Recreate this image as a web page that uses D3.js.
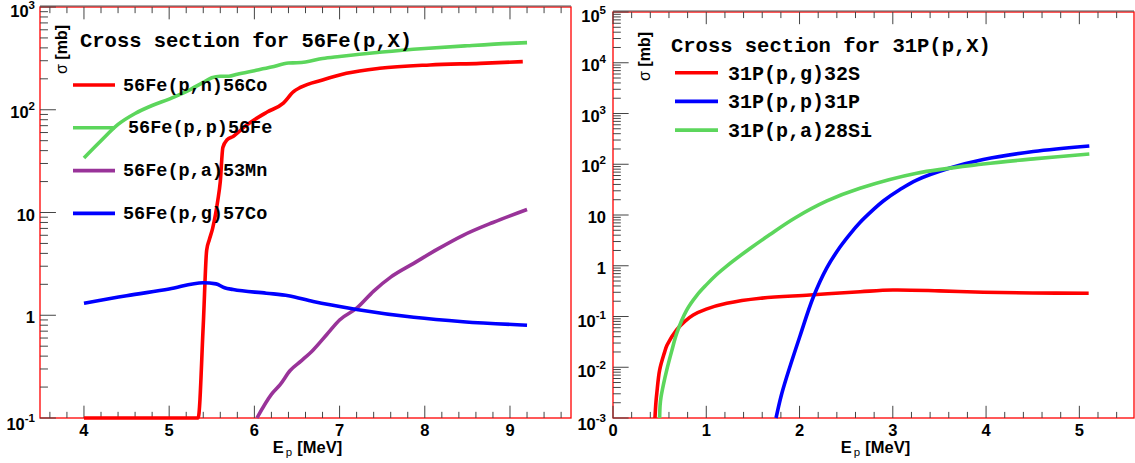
<!DOCTYPE html>
<html><head><meta charset="utf-8">
<script src="https://cdn.jsdelivr.net/npm/d3@7"></script>
<style>
html,body{margin:0;padding:0;background:#fff;}
svg{display:block;}
</style></head>
<body>
<svg id="chart" width="1135" height="463"></svg>
<script>
// ---------- DATA ----------
// Left panel: 56Fe(p,X), E_p [MeV] vs sigma [mb]
const feSeriesNames = ["56Fe(p,n)56Co", "56Fe(p,p)56Fe", "56Fe(p,a)53Mn", "56Fe(p,g)57Co"];
const fePN = [[4.0,0.1],[5.34,0.1],[5.40,0.8],[5.44,4.3],[5.47,5.4],[5.51,7.0],[5.57,13],[5.60,20],[5.63,43],[5.68,51],[5.75,55],[5.9,70],[6.0,80],[6.15,95],[6.34,116],[6.46,150],[6.54,165],[6.8,195],[7.08,226],[7.47,253],[8.06,273],[8.65,283],[9.15,294]];
const fePP = [[4.0,34],[4.2,50],[4.4,72],[4.6,92],[4.8,110],[5.0,127],[5.2,150],[5.4,185],[5.5,205],[5.6,212],[5.7,212],[5.8,222],[6.0,240],[6.2,260],[6.4,285],[6.5,287],[6.6,292],[6.8,315],[7.0,330],[7.5,365],[8.0,395],[8.5,420],[9.0,443],[9.2,450]];
const fePA = [[6.03,0.1],[6.2,0.17],[6.3,0.21],[6.42,0.29],[6.55,0.36],[6.69,0.46],[6.85,0.65],[7.0,0.9],[7.2,1.17],[7.4,1.72],[7.6,2.35],[7.87,3.2],[8.15,4.4],[8.45,6.0],[8.8,8.0],[9.2,10.7]];
const fePG = [[4.0,1.31],[4.5,1.55],[5.0,1.80],[5.4,2.07],[5.55,2.02],[5.65,1.85],[5.75,1.78],[6.14,1.64],[6.4,1.55],[6.69,1.36],[7.2,1.14],[7.87,0.955],[8.45,0.865],[9.2,0.80]];
const feXTickLabels = ["4","5","6","7","8","9"];
const feYTickValues = [0.1, 1, 10, 100, 1000];
const feYTickLabels = ["10^-1","1","10","10^2","10^3"];

// Right panel: 31P(p,X)
const pSeriesNames = ["31P(p,g)32S", "31P(p,p)31P", "31P(p,a)28Si"];
const pPG = [[0.45,0.001],[0.46,0.002],[0.47,0.0031],[0.50,0.0088],[0.55,0.019],[0.58,0.0274],[0.68,0.054],[0.77,0.08],[0.86,0.107],[1.0,0.14],[1.22,0.182],[1.58,0.229],[2.11,0.265],[2.65,0.308],[3.0,0.333],[3.5,0.32],[3.97,0.30],[4.5,0.29],[5.1,0.287]];
const pPP = [[1.748,0.001],[1.80,0.0026],[1.862,0.0064],[2.005,0.0413],[2.148,0.242],[2.291,0.90],[2.434,2.34],[2.541,4.22],[2.648,7.12],[2.788,12.6],[2.898,18.9],[3.077,31.8],[3.256,48.9],[3.613,84.4],[3.97,124],[4.506,178],[5.107,229]];
const pPA = [[0.50,0.001],[0.505,0.0018],[0.515,0.0026],[0.54,0.0045],[0.576,0.0088],[0.63,0.021],[0.683,0.0467],[0.79,0.134],[0.897,0.259],[1.0,0.42],[1.112,0.672],[1.222,0.998],[1.469,2.19],[1.683,4.13],[1.951,8.73],[2.294,18.9],[2.648,33.6],[3.256,66.4],[3.97,101],[4.535,129],[5.107,159]];
const pXTickLabels = ["0","1","2","3","4","5"];
const pYTickValues = [1e-3,1e-2,1e-1,1,10,100,1e3,1e4,1e5];
const pYTickLabels = ["10^-3","10^-2","10^-1","1","10","10^2","10^3","10^4","10^5"];

// ---------- DRAW ----------
const svg = d3.select("#chart");
const RED = "#ff0000", GREEN = "#5cd65c", PURPLE = "#993399", BLUE = "#0000ff";

function panel(cfg){
  const g = svg.append("g");
  const x = d3.scaleLinear().domain(cfg.xDomain).range([cfg.left, cfg.right]);
  const y = d3.scaleLog().domain(cfg.yDomain).range([cfg.bottom, cfg.top]);
  const W = cfg.right - cfg.left, H = cfg.bottom - cfg.top;
  const xMajLen = 0.03*H, yMajLen = 0.03*W;

  // frame
  g.append("rect").attr("x",cfg.left).attr("y",cfg.top).attr("width",W).attr("height",H)
    .attr("fill","none").attr("stroke",RED).attr("stroke-width",1.3);
  g.append("line").attr("x1",cfg.left).attr("x2",cfg.right).attr("y1",cfg.top-1).attr("y2",cfg.top-1)
    .attr("stroke","#555").attr("stroke-width",1.2);

  const tickG = g.append("g").attr("stroke","#444").attr("stroke-width",1);
  // x ticks (bottom & top)
  const xMinor = x.ticks(30), xMajor = x.ticks(6);
  xMinor.forEach(v=>{
    const isMaj = xMajor.some(m=>Math.abs(m-v)<1e-9);
    const L = isMaj ? xMajLen : xMajLen/2;
    tickG.append("line").attr("x1",x(v)).attr("x2",x(v)).attr("y1",cfg.bottom).attr("y2",cfg.bottom-L);
    tickG.append("line").attr("x1",x(v)).attr("x2",x(v)).attr("y1",cfg.top).attr("y2",cfg.top+L);
  });
  // y ticks (left)
  const [y0,y1] = cfg.yDomain;
  for(let d=Math.round(Math.log10(y0)); d<=Math.round(Math.log10(y1)); d++){
    for(let m=1;m<=9;m++){
      const v = m*Math.pow(10,d);
      if(v < y0*0.999 || v > y1*1.001) continue;
      const L = m===1 ? yMajLen : yMajLen/2;
      tickG.append("line").attr("x1",cfg.left).attr("x2",cfg.left+L).attr("y1",y(v)).attr("y2",y(v));
    }
  }
  // x tick labels
  xMajor.forEach((v,i)=>{
    g.append("text").attr("x",x(v)).attr("y",cfg.bottom+18).attr("text-anchor","middle")
      .attr("font-family","'Liberation Sans',Arial,sans-serif").attr("font-weight","bold").attr("font-size",16.5)
      .text(cfg.xLabels[i]);
  });
  // y tick labels
  cfg.yValues.forEach((v,i)=>{
    const lab = cfg.yLabels[i];
    let dy = 8;
    if(i===0) dy = 12; else if(i===cfg.yValues.length-1) dy = 10; else if(lab.includes("-")) dy = 10;
    const t = g.append("text").attr("x",cfg.left-cfg.labGap).attr("y",y(v)+dy).attr("text-anchor","end")
      .attr("font-family","'Liberation Sans',Arial,sans-serif").attr("font-weight","bold").attr("font-size",16.5);
    const parts = lab.split("^");
    t.append("tspan").text(parts[0]);
    if(parts.length>1) t.append("tspan").attr("dy",-8).attr("font-size",11.5).text(parts[1]);
  });
  // axis titles
  const xt = g.append("text").attr("x",(cfg.left+cfg.right)/2+2).attr("y",cfg.bottom+35).attr("text-anchor","middle")
    .attr("font-family","'Liberation Sans',Arial,sans-serif").attr("font-weight","bold").attr("font-size",16.5);
  xt.append("tspan").text("E");
  xt.append("tspan").attr("dy",3).attr("dx",2).attr("font-size",11.5).attr("font-weight","normal").text("p");
  xt.append("tspan").attr("dy",-3).attr("dx",5).text("[MeV]");

  const yt = g.append("text").attr("transform",`translate(${cfg.left+cfg.yTitleOff},${cfg.top+cfg.yTitleTop}) rotate(-90)`)
    .attr("text-anchor","end")
    .attr("font-family","'Liberation Sans',Arial,sans-serif").attr("font-size",16);
  yt.append("tspan").text("σ ");
  yt.append("tspan").attr("font-weight","bold").text("[mb]");

  // curves
  const line = d3.line().x(d=>x(d[0])).y(d=>y(d[1])).curve(cfg.curve);
  cfg.series.forEach(s=>{
    g.append("path").datum(s.data).attr("d",line).attr("fill","none").attr("stroke",s.color)
      .attr("stroke-width",3.6).attr("stroke-linejoin","round").attr("stroke-linecap","butt");
  });

  // title & legend
  g.append("text").attr("x",cfg.titleX).attr("y",cfg.titleY)
    .attr("font-family","'Liberation Mono','Courier New',monospace").attr("font-weight","bold").attr("font-size",20.5)
    .text(cfg.title);
  cfg.series.forEach((s,i)=>{
    const ly = cfg.legY0 + i*cfg.legStep;
    g.append("line").attr("x1",cfg.legX1).attr("x2",cfg.legX2).attr("y1",ly).attr("y2",ly)
      .attr("stroke",s.color).attr("stroke-width",3.6);
    g.append("text").attr("x",cfg.legTX + (s.tdx||0)).attr("y",ly+cfg.legTdy)
      .attr("font-family","'Liberation Mono','Courier New',monospace").attr("font-weight","bold").attr("font-size",cfg.legFont)
      .text(s.name);
  });
}

panel({
  left:40, right:571, top:7, bottom:418,
  xDomain:[3.484, 9.716], yDomain:[0.1, 1000], curve:d3.curveMonotoneX,
  xLabels:feXTickLabels, yValues:feYTickValues, yLabels:feYTickLabels, labGap:5,
  yTitleOff:27, yTitleTop:18,
  title:"Cross section for 56Fe(p,X)", titleX:80, titleY:47,
  legX1:73, legX2:115, legTX:123, legY0:85, legStep:42.8, legTdy:5.5, legFont:18.5,
  series:[
    {name:feSeriesNames[0], data:fePN, color:RED},
    {name:feSeriesNames[1], data:fePP, color:GREEN, tdx:5},
    {name:feSeriesNames[2], data:fePA, color:PURPLE},
    {name:feSeriesNames[3], data:fePG, color:BLUE}
  ]
});

panel({
  left:613, right:1134, top:12, bottom:418,
  xDomain:[0, 5.586], yDomain:[1e-3, 1e5], curve:d3.curveCatmullRom.alpha(0.5),
  xLabels:pXTickLabels, yValues:pYTickValues, yLabels:pYTickLabels, labGap:7,
  yTitleOff:37, yTitleTop:20,
  title:"Cross section for 31P(p,X)", titleX:671, titleY:52,
  legX1:675, legX2:718, legTX:728, legY0:72.7, legStep:28.7, legTdy:7, legFont:20,
  series:[
    {name:pSeriesNames[0], data:pPG, color:RED},
    {name:pSeriesNames[1], data:pPP, color:BLUE},
    {name:pSeriesNames[2], data:pPA, color:GREEN}
  ]
});
</script>
</body></html>
